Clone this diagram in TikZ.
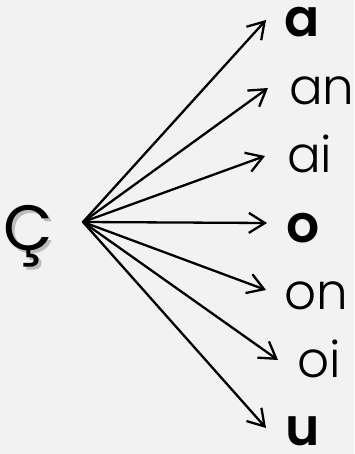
\documentclass[tikz,border=0pt]{standalone}
\usepackage{fontspec}
\setmainfont{Poppins}[BoldFont={Poppins SemiBold}]
\newfontfamily\thinfont{Poppins Light}
\usetikzlibrary{arrows.meta}
\definecolor{bg}{HTML}{F2F2F2}
\tikzset{
  arr/.style={line width=2.3pt, line cap=round, -{Straight Barb[length=16pt,width=20pt,line width=2.3pt]}},
  boldlbl/.style={anchor=base west, inner sep=0pt, font=\fontsize{52}{52}\selectfont\bfseries},
  thinlbl/.style={anchor=base west, inner sep=0pt, font=\fontsize{50}{50}\selectfont\thinfont},
}
\begin{document}
\begin{tikzpicture}[x=1pt,y=-1pt]
\fill[bg] (0,0) rectangle (354,454);
\useasboundingbox (0,0) rectangle (354,454);
% source letter with shadow
\node[anchor=base west, inner sep=0pt, font=\fontsize{64}{64}\selectfont, text=black!40, opacity=0.6] at (6,253) {Ç};
\node[anchor=base west, inner sep=0pt, font=\fontsize{64}{64}\selectfont] (src) at (3.5,250) {Ç};
\coordinate (o) at (83,222);
% targets
\node[boldlbl] (ta) at (284,37) {a};
\node[thinlbl] (tan) at (289,105) {an};
\node[thinlbl] (tai) at (287,173) {ai};
\node[boldlbl] (to) at (286,242) {o};
\node[thinlbl] (ton) at (284,309) {on};
\node[thinlbl] (toi) at (297,377) {oi};
\node[boldlbl] (tu) at (285,445) {u};
% arrow tips
\coordinate (pa) at (266,20);
\coordinate (pan) at (268,88);
\coordinate (pai) at (265,156);
\coordinate (po) at (267,223);
\coordinate (pon) at (266,290);
\coordinate (poi) at (278,360);
\coordinate (pu) at (266,428);
\foreach \t in {pa,pan,pai,po,pon,poi,pu} \draw[arr] (o) -- (\t);
\end{tikzpicture}
\end{document}
